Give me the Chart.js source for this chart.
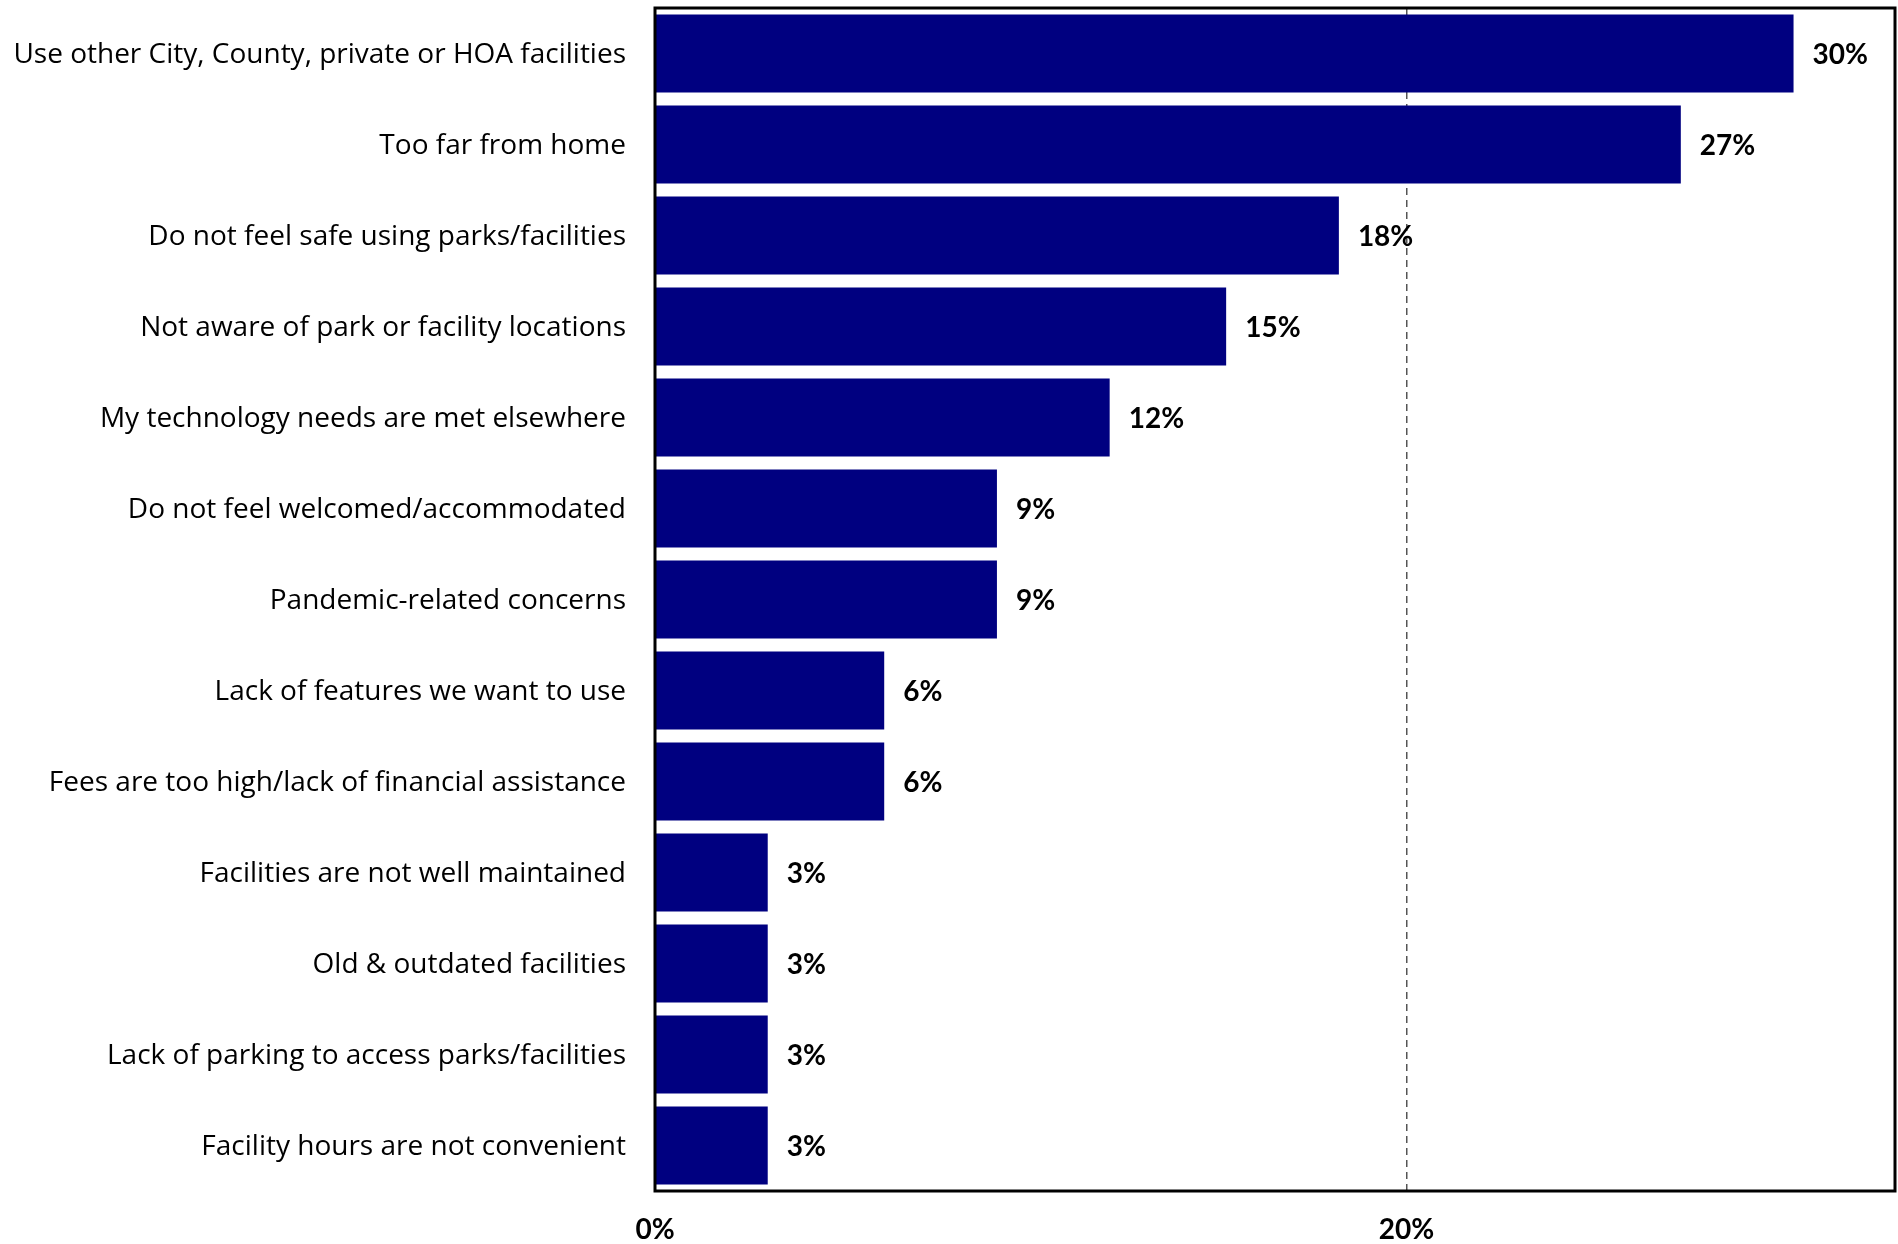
<!DOCTYPE html>
<html>
<head>
<meta charset="utf-8">
<script src="https://cdn.jsdelivr.net/npm/chart.js@4/dist/chart.umd.min.js"></script>
<style>
  html, body { margin: 0; padding: 0; background: #fff; }
  #wrap { width: 1898px; height: 1244px; }
</style>
</head>
<body>
<div id="wrap"><canvas id="chart"></canvas></div>
<script>
// reasons for not using parks/facilities (share of respondents, %)
const categories = [
  'Use other City, County, private or HOA facilities',
  'Too far from home',
  'Do not feel safe using parks/facilities',
  'Not aware of park or facility locations',
  'My technology needs are met elsewhere',
  'Do not feel welcomed/accommodated',
  'Pandemic-related concerns',
  'Lack of features we want to use',
  'Fees are too high/lack of financial assistance',
  'Facilities are not well maintained',
  'Old & outdated facilities',
  'Lack of parking to access parks/facilities',
  'Facility hours are not convenient'
];
const values = [30.3, 27.3, 18.2, 15.2, 12.1, 9.1, 9.1, 6.1, 6.1, 3.0, 3.0, 3.0, 3.0];
const xTicks = [0, 20];
const xMax = 33;

const boldFont = 'Lato, "Open Sans", sans-serif';
const catFont = '"Open Sans", Lato, sans-serif';

// valeurs en gras a droite des barres
const barLabels = {
  id: 'barLabels',
  afterDatasetsDraw(chart) {
    const ctx = chart.ctx;
    const meta = chart.getDatasetMeta(0);
    ctx.save();
    ctx.font = 'bold 28px ' + boldFont;
    ctx.fillStyle = '#000';
    ctx.textAlign = 'left';
    ctx.textBaseline = 'middle';
    meta.data.forEach((bar, i) => {
      ctx.fillText(Math.round(values[i]) + '%', bar.x + 19, bar.y + 1);
    });
    ctx.restore();
  }
};

// cadre noir autour de la zone de tracé
const frame = {
  id: 'frame',
  afterDraw(chart) {
    const a = chart.chartArea;
    const ctx = chart.ctx;
    ctx.save();
    ctx.strokeStyle = '#000';
    ctx.lineWidth = 3;
    ctx.strokeRect(a.left, a.top, a.right - a.left, a.bottom - a.top);
    ctx.restore();
  }
};

new Chart(document.getElementById('chart'), {
  type: 'bar',
  data: {
    labels: categories,
    datasets: [{
      data: values,
      backgroundColor: '#000080',
      borderWidth: 0,
      barPercentage: 0.857,
      categoryPercentage: 1.0
    }]
  },
  options: {
    indexAxis: 'y',
    responsive: true,
    maintainAspectRatio: false,
    animation: false,
    layout: { padding: { top: 8, right: 3, left: 0, bottom: 0 } },
    plugins: {
      legend: { display: false },
      tooltip: { enabled: false }
    },
    scales: {
      x: {
        min: 0,
        max: xMax,
        afterBuildTicks: (scale) => { scale.ticks = xTicks.map(v => ({ value: v })); },
        afterFit: (scale) => { scale.height = 53; },
        grid: {
          drawTicks: false,
          lineWidth: 1.5,
          color: (c) => c.tick && c.tick.value === 0 ? 'rgba(0,0,0,0)' : '#555'
        },
        border: { display: false, dash: [7, 5] },
        ticks: {
          padding: 22,
          color: '#000',
          font: { family: boldFont, size: 28, weight: 'bold' },
          callback: (v) => v + '%'
        }
      },
      y: {
        afterFit: (scale) => {
          scale.width = 655;
          scale.paddingTop = 0;
          scale.paddingBottom = 0;
        },
        grid: { display: false, drawTicks: false },
        border: { display: false },
        ticks: {
          padding: 29,
          labelOffset: 2,
          color: '#000',
          autoSkip: false,
          font: { family: catFont, size: 28 }
        }
      }
    }
  },
  plugins: [barLabels, frame]
});
</script>
</body>
</html>
